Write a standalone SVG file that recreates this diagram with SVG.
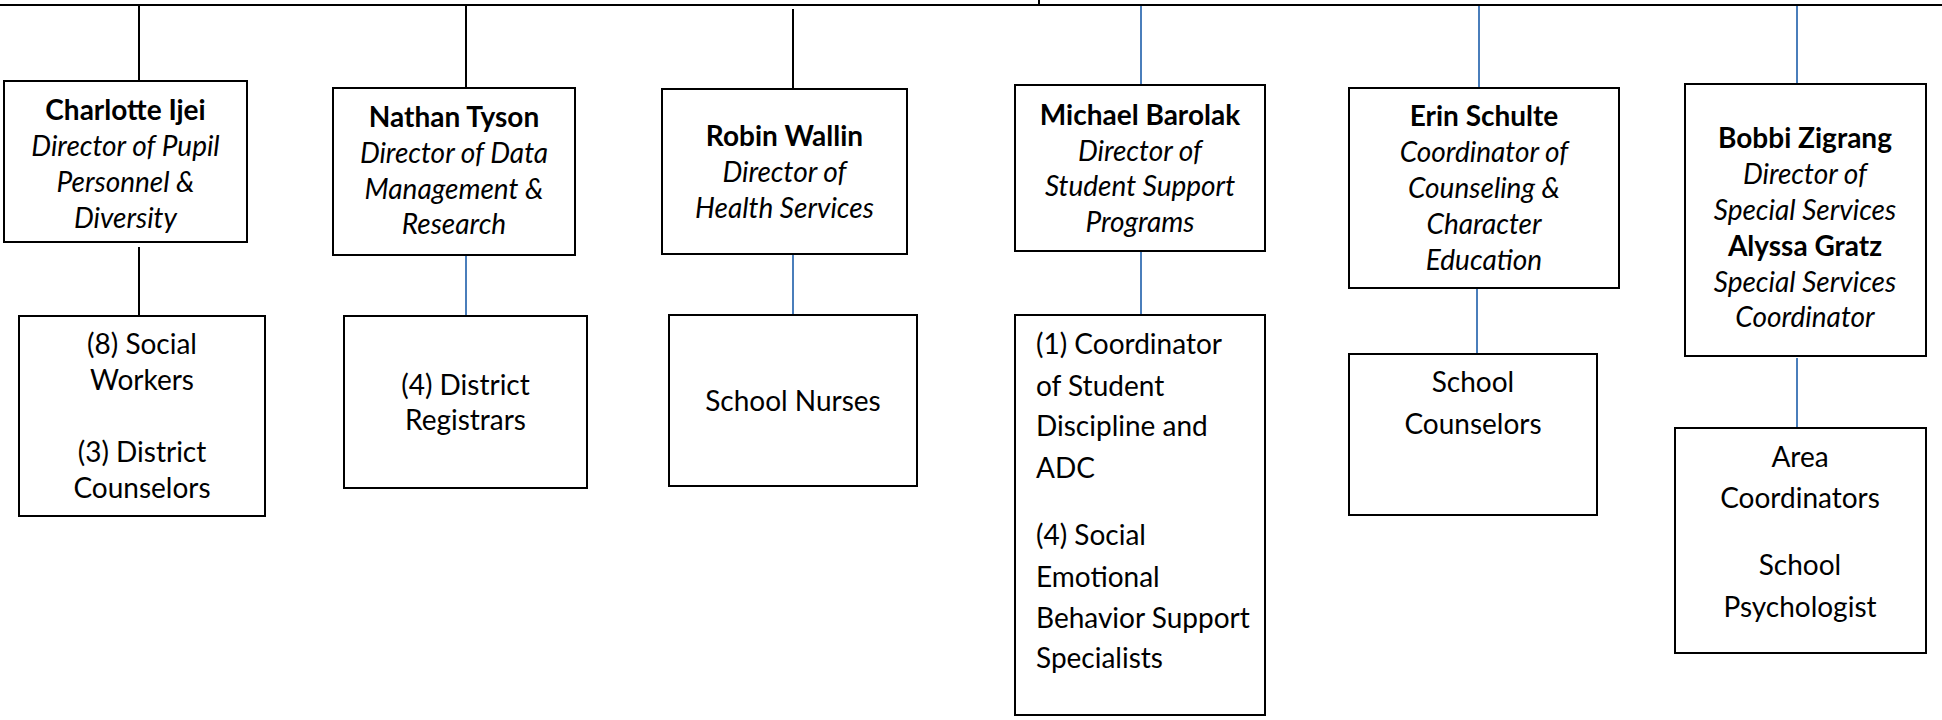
<svg xmlns="http://www.w3.org/2000/svg" width="1942" height="720" viewBox="0 0 1942 720">
  <style>
    .box { fill: #ffffff; stroke: #000000; stroke-width: 2; }
    .k { stroke: #000000; stroke-width: 2; fill: none; }
    .b { stroke: #4A7EBB; stroke-width: 2; fill: none; }
    text { font-family: Lato, "Open Sans", "Liberation Sans", sans-serif; font-size: 28px; fill: #000000; }
    .c { text-anchor: middle; }
    .n { font-weight: bold; }
    .t { font-style: italic; }
  </style>

  <!-- connectors -->
  <g id="connectors">
    <line class="k" x1="0" y1="5" x2="1942" y2="5"/>
    <line class="k" x1="1039" y1="0" x2="1039" y2="5"/>
    <line class="k" x1="139" y1="6" x2="139" y2="81"/>
    <line class="k" x1="466" y1="6" x2="466" y2="88"/>
    <line class="k" x1="793" y1="9" x2="793" y2="89"/>
    <line class="b" x1="1141" y1="6" x2="1141" y2="85"/>
    <line class="b" x1="1479" y1="6" x2="1479" y2="88"/>
    <line class="b" x1="1797" y1="6" x2="1797" y2="89"/>
    <line class="k" x1="139" y1="247" x2="139" y2="316"/>
    <line class="b" x1="466" y1="255" x2="466" y2="316"/>
    <line class="b" x1="793" y1="254" x2="793" y2="315"/>
    <line class="b" x1="1141" y1="252" x2="1141" y2="315"/>
    <line class="b" x1="1477" y1="284" x2="1477" y2="354"/>
    <line class="b" x1="1797" y1="358" x2="1797" y2="428"/>
  </g>

  <!-- directors -->
  <g id="ijei">
    <rect class="box" x="4" y="81" width="243" height="161"/>
    <text class="c n" x="125.5" y="120">Charlotte Ijei</text>
    <text class="c t" x="125.5" y="156">Director of Pupil</text>
    <text class="c t" x="125.5" y="192">Personnel &amp;</text>
    <text class="c t" x="125.5" y="228">Diversity</text>
  </g>

  <g id="tyson">
    <rect class="box" x="333" y="88" width="242" height="167"/>
    <text class="c n" x="454" y="127">Nathan Tyson</text>
    <text class="c t" x="454" y="163">Director of Data</text>
    <text class="c t" x="454" y="198.5">Management &amp;</text>
    <text class="c t" x="454" y="234">Research</text>
  </g>

  <g id="wallin">
    <rect class="box" x="662" y="89" width="245" height="165"/>
    <text class="c n" x="784.5" y="146">Robin Wallin</text>
    <text class="c t" x="784.5" y="182">Director of</text>
    <text class="c t" x="784.5" y="217.5">Health Services</text>
  </g>

  <g id="barolak">
    <rect class="box" x="1015" y="85" width="250" height="166"/>
    <text class="c n" x="1140" y="125">Michael Barolak</text>
    <text class="c t" x="1140" y="160.5">Director of</text>
    <text class="c t" x="1140" y="196">Student Support</text>
    <text class="c t" x="1140" y="231.5">Programs</text>
  </g>

  <g id="schulte">
    <rect class="box" x="1349" y="88" width="270" height="200"/>
    <text class="c n" x="1484" y="125.5">Erin Schulte</text>
    <text class="c t" x="1484" y="161.5">Coordinator of</text>
    <text class="c t" x="1484" y="197.5">Counseling &amp;</text>
    <text class="c t" x="1484" y="233.5">Character</text>
    <text class="c t" x="1484" y="269.5">Education</text>
  </g>

  <g id="zigrang">
    <rect class="box" x="1685" y="84" width="241" height="272"/>
    <text class="c n" x="1805" y="148">Bobbi Zigrang</text>
    <text class="c t" x="1805" y="184">Director of</text>
    <text class="c t" x="1805" y="220">Special Services</text>
    <text class="c n" x="1805" y="256">Alyssa Gratz</text>
    <text class="c t" x="1805" y="291.5">Special Services</text>
    <text class="c t" x="1805" y="326.5">Coordinator</text>
  </g>

  <!-- staff -->
  <g id="social-workers">
    <rect class="box" x="19" y="316" width="246" height="200"/>
    <text class="c" x="142" y="353.5">(8) Social</text>
    <text class="c" x="142" y="389.5">Workers</text>
    <text class="c" x="142" y="462">(3) District</text>
    <text class="c" x="142" y="497.5">Counselors</text>
  </g>

  <g id="registrars">
    <rect class="box" x="344" y="316" width="243" height="172"/>
    <text class="c" x="465.5" y="394.5">(4) District</text>
    <text class="c" x="465.5" y="429.5">Registrars</text>
  </g>

  <g id="nurses">
    <rect class="box" x="669" y="315" width="248" height="171"/>
    <text class="c" x="793" y="410.5">School Nurses</text>
  </g>

  <g id="support-staff">
    <rect class="box" x="1015" y="315" width="250" height="400"/>
    <text x="1036" y="353.5">(1) Coordinator</text>
    <text x="1036" y="395.5">of Student</text>
    <text x="1036" y="436">Discipline and</text>
    <text x="1036" y="478">ADC</text>
    <text x="1036" y="545">(4) Social</text>
    <text x="1036" y="586.5">Emotional</text>
    <text x="1036" y="627.5">Behavior Support</text>
    <text x="1036" y="668">Specialists</text>
  </g>

  <g id="counselors">
    <rect class="box" x="1349" y="354" width="248" height="161"/>
    <text class="c" x="1473" y="392">School</text>
    <text class="c" x="1473" y="433.5">Counselors</text>
  </g>

  <g id="psychologists">
    <rect class="box" x="1675" y="428" width="251" height="225"/>
    <text class="c" x="1800" y="466.5">Area</text>
    <text class="c" x="1800" y="508">Coordinators</text>
    <text class="c" x="1800" y="575">School</text>
    <text class="c" x="1800" y="616.5">Psychologist</text>
  </g>
</svg>
